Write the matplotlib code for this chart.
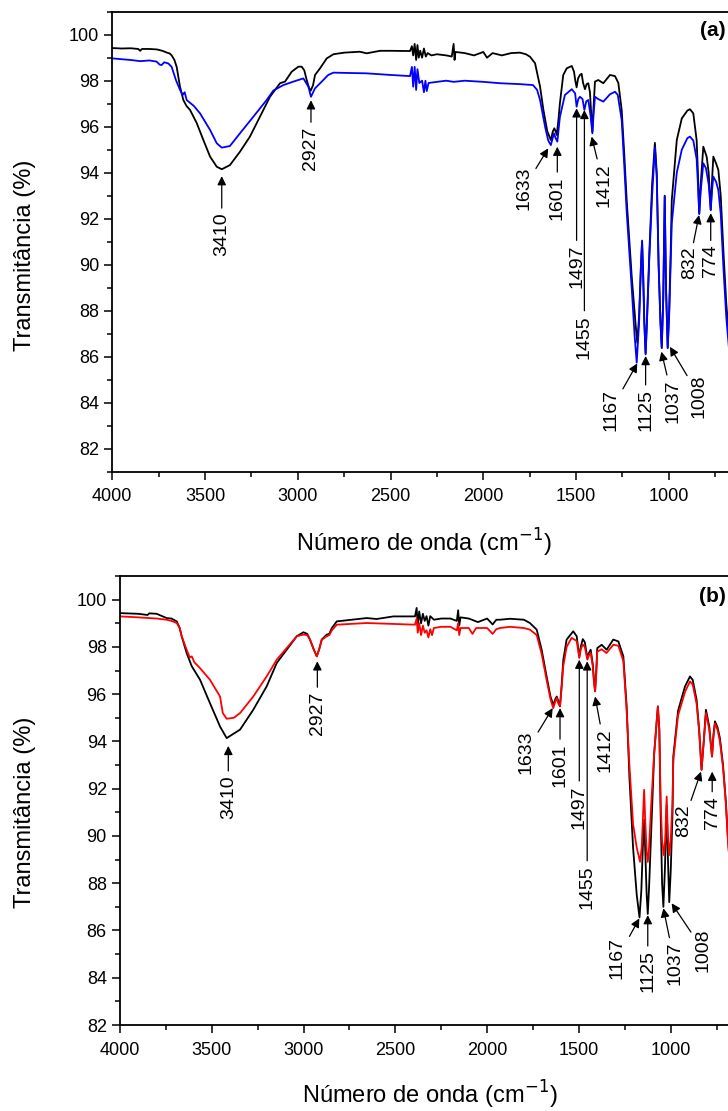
import matplotlib
matplotlib.use("Agg")
import matplotlib.pyplot as plt
from matplotlib.ticker import MultipleLocator

plt.rcParams['font.family'] = ['Liberation Sans', 'DejaVu Sans']

# ---------------- data (a) ----------------
wn_a_black = [4000, 3950, 3900, 3860, 3850, 3840, 3800, 3760, 3730, 3705, 3690, 3680, 3665, 3653, 3635, 3617, 3600, 3581,
              3545, 3509, 3473, 3437, 3410, 3366, 3312, 3258, 3204, 3150, 3096, 3069, 3033, 2997, 2979, 2965, 2952, 2940,
              2930, 2918, 2907, 2880, 2844, 2808, 2750, 2665, 2629, 2557, 2500, 2395, 2385, 2378, 2370, 2362, 2355, 2348,
              2340, 2330, 2320, 2310, 2300, 2280, 2250, 2200, 2170, 2160, 2155, 2150, 2100, 2050, 2000, 1980, 1950, 1900,
              1850, 1802, 1770, 1748, 1721, 1694, 1676, 1655, 1636, 1625, 1617, 1610, 1604, 1595, 1587, 1569, 1550, 1523,
              1511, 1504, 1497, 1489, 1479, 1470, 1462, 1452, 1443, 1434, 1425, 1418, 1412, 1406, 1398, 1380, 1353, 1317,
              1290, 1272, 1254, 1240, 1227, 1200, 1180, 1170, 1160, 1150, 1144, 1138, 1132, 1125, 1118, 1105, 1090, 1075,
              1065, 1055, 1045, 1038, 1030, 1022, 1015, 1006, 998, 990, 984, 957, 930, 900, 886, 868, 850, 843, 836, 828,
              814, 796, 785, 774, 766, 760, 745, 733, 720, 705, 690, 675]
t_a_black = [99.42, 99.40, 99.41, 99.38, 99.30, 99.38, 99.38, 99.36, 99.30, 99.22, 99.18, 99.10, 98.90, 98.60, 97.74, 97.16,
             96.90, 96.73, 96.16, 95.42, 94.70, 94.26, 94.15, 94.33, 94.91, 95.57, 96.43, 97.30, 97.89, 97.96, 98.39, 98.61,
             98.61, 98.45, 98.03, 97.70, 97.57, 97.80, 98.25, 98.54, 98.97, 99.15, 99.22, 99.26, 99.19, 99.30, 99.30, 99.29,
             99.50, 99.10, 99.60, 98.90, 99.55, 99.00, 99.30, 99.00, 99.40, 99.05, 99.20, 99.10, 99.15, 99.10, 99.05, 99.60,
             98.90, 99.25, 99.20, 99.10, 99.25, 99.00, 99.20, 99.10, 99.20, 99.22, 99.15, 99.04, 98.76, 97.74, 96.73, 95.80,
             95.42, 95.80, 95.93, 95.80, 95.64, 96.30, 97.02, 98.25, 98.54, 98.64, 98.39, 98.00, 97.71, 98.10, 98.25, 98.30,
             97.90, 97.63, 97.85, 97.89, 97.50, 96.50, 95.78, 96.80, 97.96, 98.03, 97.89, 98.25, 98.20, 97.90, 96.73, 94.80,
             92.80, 89.50, 87.50, 86.60, 87.80, 90.00, 91.00, 89.50, 87.50, 86.15, 87.50, 90.50, 93.50, 95.30, 94.00, 90.00,
             87.50, 86.40, 88.50, 93.00, 89.00, 86.40, 88.00, 90.50, 92.80, 95.42, 96.36, 96.70, 96.76, 96.58, 95.42, 94.00,
             92.23, 93.50, 95.13, 94.70, 94.00, 92.38, 93.80, 94.70, 94.40, 94.12, 93.00, 90.50, 88.30, 86.80]

wn_a_blue = [4000, 3900, 3850, 3800, 3761, 3745, 3734, 3720, 3698, 3680, 3657, 3635, 3621, 3610, 3599, 3560, 3527, 3473,
             3437, 3410, 3366, 3312, 3240, 3168, 3132, 3078, 3024, 2970, 2943, 2929, 2907, 2871, 2836, 2808, 2629, 2500,
             2395, 2385, 2378, 2370, 2362, 2355, 2345, 2330, 2320, 2312, 2305, 2295, 2250, 2200, 2160, 2100, 2000, 1909,
             1800, 1732, 1710, 1694, 1667, 1650, 1636, 1619, 1610, 1601, 1587, 1560, 1523, 1505, 1497, 1488, 1479, 1465,
             1455, 1445, 1434, 1422, 1412, 1405, 1398, 1380, 1353, 1317, 1290, 1275, 1254, 1240, 1227, 1200, 1185, 1173,
             1160, 1150, 1144, 1138, 1132, 1125, 1118, 1105, 1090, 1075, 1065, 1055, 1045, 1038, 1030, 1022, 1015, 1006,
             998, 990, 984, 957, 930, 900, 886, 868, 850, 843, 836, 828, 814, 800, 785, 774, 766, 760, 745, 733, 720, 705,
             690, 675]
t_a_blue = [98.97, 98.90, 98.85, 98.88, 98.83, 98.70, 98.68, 98.80, 98.75, 98.60, 98.03, 97.60, 97.38, 97.50, 97.16, 96.90,
            96.58, 95.86, 95.28, 95.09, 95.16, 95.71, 96.43, 97.16, 97.57, 97.81, 97.96, 98.10, 97.74, 97.30, 97.67, 97.96,
            98.25, 98.35, 98.32, 98.25, 98.20, 98.60, 97.74, 98.60, 97.60, 98.50, 97.90, 98.00, 97.50, 98.00, 97.55, 97.90,
            97.95, 98.00, 97.95, 98.00, 97.95, 97.89, 97.85, 97.81, 97.60, 97.16, 96.00, 95.40, 95.20, 95.71, 95.50, 95.35,
            96.43, 97.38, 97.63, 97.45, 96.87, 97.20, 97.30, 97.20, 96.73, 97.10, 97.16, 96.50, 95.71, 96.60, 97.30, 97.20,
            97.09, 97.41, 97.52, 97.38, 96.29, 94.30, 92.30, 89.00, 87.00, 85.74, 87.50, 90.00, 91.05, 89.50, 87.50, 86.10,
            87.50, 90.30, 93.00, 95.10, 93.80, 90.00, 87.50, 86.37, 88.50, 92.96, 89.00, 86.37, 87.80, 90.00, 91.80, 94.00,
            95.00, 95.50, 95.57, 95.40, 94.60, 93.50, 92.20, 93.20, 94.41, 94.20, 93.50, 92.38, 93.30, 93.83, 93.60, 93.25,
            92.20, 89.80, 87.70, 86.30]

# ---------------- data (b) ----------------
wn_b_black = [4000, 3900, 3850, 3840, 3800, 3746, 3720, 3691, 3675, 3664, 3637, 3609, 3564, 3510, 3455, 3419, 3346, 3274,
              3201, 3146, 3092, 3037, 3001, 2980, 2965, 2945, 2928, 2915, 2901, 2874, 2860, 2846, 2819, 2656, 2602, 2511,
              2393, 2384, 2378, 2370, 2360, 2350, 2340, 2330, 2320, 2310, 2290, 2250, 2200, 2165, 2158, 2152, 2145, 2100,
              2050, 2000, 1970, 1950, 1930, 1875, 1800, 1767, 1730, 1703, 1676, 1655, 1640, 1628, 1621, 1612, 1603, 1595,
              1585, 1567, 1531, 1512, 1505, 1498, 1490, 1479, 1468, 1454, 1445, 1436, 1425, 1418, 1412, 1406, 1400, 1376,
              1349, 1313, 1285, 1258, 1240, 1225, 1205, 1185, 1170, 1160, 1152, 1144, 1137, 1131, 1125, 1118, 1105, 1090,
              1070, 1062, 1055, 1047, 1040, 1032, 1022, 1015, 1008, 1000, 990, 986, 960, 922, 895, 880, 859, 845, 832, 820,
              808, 790, 775, 767, 759, 745, 732, 715, 700, 689, 675]
t_b_black = [99.43, 99.40, 99.35, 99.42, 99.40, 99.22, 99.20, 99.08, 98.80, 98.45, 97.74, 97.18, 96.61, 95.62, 94.63, 94.14,
             94.50, 95.34, 96.33, 97.32, 97.88, 98.45, 98.62, 98.55, 98.31, 97.90, 97.60, 97.90, 98.31, 98.52, 98.55, 98.80,
             99.08, 99.22, 99.18, 99.29, 99.29, 99.65, 98.90, 99.50, 99.00, 99.40, 99.10, 99.30, 98.90, 99.30, 99.15, 99.20,
             99.20, 99.10, 99.55, 98.90, 99.25, 99.20, 99.05, 99.20, 98.95, 99.15, 99.15, 99.19, 99.15, 99.01, 98.73, 97.88,
             96.75, 95.90, 95.55, 95.80, 95.90, 95.70, 95.48, 96.30, 97.46, 98.31, 98.66, 98.45, 98.00, 97.60, 98.00, 98.33,
             98.20, 97.53, 97.75, 97.88, 97.30, 96.60, 96.12, 96.90, 97.95, 98.09, 97.88, 98.31, 98.23, 97.60, 95.48, 92.50,
             89.50, 87.50, 86.55, 87.70, 89.50, 90.68, 89.00, 87.50, 86.70, 87.80, 90.50, 93.50, 95.48, 94.50, 91.00, 88.00,
             87.00, 88.50, 91.30, 89.00, 87.20, 88.50, 91.00, 93.36, 95.30, 96.33, 96.75, 96.60, 95.76, 94.50, 92.80, 94.00,
             95.34, 94.63, 93.36, 94.30, 94.85, 94.60, 94.14, 93.00, 91.50, 90.00, 88.50]

wn_b_red = [4000, 3900, 3800, 3746, 3720, 3691, 3675, 3664, 3637, 3620, 3609, 3595, 3564, 3510, 3455, 3440, 3419, 3380,
            3346, 3274, 3201, 3146, 3092, 3037, 3001, 2980, 2965, 2945, 2928, 2915, 2901, 2874, 2860, 2846, 2819, 2656,
            2550, 2393, 2384, 2378, 2370, 2360, 2350, 2340, 2330, 2320, 2310, 2300, 2290, 2250, 2200, 2165, 2158, 2152,
            2145, 2100, 2080, 2060, 2000, 1970, 1950, 1930, 1875, 1800, 1767, 1730, 1703, 1676, 1655, 1640, 1628, 1621,
            1612, 1603, 1595, 1585, 1567, 1540, 1512, 1505, 1498, 1490, 1479, 1468, 1454, 1445, 1436, 1425, 1418, 1412,
            1406, 1400, 1376, 1350, 1313, 1285, 1258, 1240, 1225, 1205, 1185, 1167, 1158, 1150, 1145, 1138, 1131, 1125,
            1118, 1105, 1090, 1070, 1062, 1055, 1047, 1038, 1030, 1022, 1015, 1008, 1000, 990, 986, 960, 922, 895, 880,
            859, 845, 832, 820, 808, 790, 775, 767, 759, 745, 732, 715, 700, 689, 675]
t_b_red = [99.29, 99.25, 99.20, 99.15, 99.10, 99.01, 98.80, 98.45, 97.88, 97.55, 97.60, 97.35, 97.10, 96.61, 95.90, 95.20,
           94.96, 95.00, 95.20, 95.90, 96.75, 97.46, 97.95, 98.45, 98.52, 98.50, 98.30, 97.90, 97.60, 97.90, 98.30, 98.45,
           98.50, 98.70, 98.94, 99.01, 98.98, 98.94, 99.20, 98.60, 99.00, 98.50, 98.90, 98.60, 98.70, 98.40, 98.75, 98.50,
           98.80, 98.85, 98.85, 98.70, 99.00, 98.50, 98.80, 98.80, 98.55, 98.80, 98.80, 98.55, 98.75, 98.80, 98.85, 98.80,
           98.73, 98.50, 97.70, 96.60, 95.80, 95.41, 95.70, 95.85, 95.60, 95.50, 96.20, 97.20, 98.00, 98.38, 98.25, 97.90,
           97.53, 97.90, 98.10, 98.00, 97.46, 97.65, 97.75, 97.20, 96.50, 96.12, 96.80, 97.80, 97.90, 97.74, 98.09, 98.05,
           97.40, 95.30, 93.00, 90.50, 89.50, 88.91, 89.50, 91.00, 91.95, 90.50, 89.30, 88.90, 89.50, 91.50, 93.50, 95.48,
           94.50, 91.50, 89.80, 89.19, 89.80, 91.67, 90.00, 89.19, 89.80, 91.50, 93.20, 95.10, 96.10, 96.54, 96.40, 95.60,
           94.40, 92.80, 94.00, 95.20, 94.50, 93.36, 94.20, 94.75, 94.50, 94.00, 92.90, 91.40, 89.90, 88.40]

# peak labels: text, arrow-tip wavenumber, arrow-tip T, text-center wavenumber, text-center T
ann_a_labels = ['3410', '2927', '1633', '1601', '1497', '1455', '1412', '1167', '1125', '1037', '1008', '832', '774']
ann_a_tip_x = [3410, 2929, 1650, 1601, 1497, 1455, 1416, 1170, 1125, 1040, 994, 837, 774]
ann_a_tip_y = [93.85, 97.15, 95.06, 95.13, 96.80, 96.73, 95.57, 85.71, 86.03, 86.22, 86.43, 92.16, 92.24]
ann_a_txt_x = [3410, 2929, 1781, 1601, 1497, 1455, 1352, 1312, 1125, 977, 837, 889, 774]
ann_a_txt_y = [91.33, 95.07, 93.33, 92.90, 89.93, 86.87, 93.47, 83.68, 83.68, 84.08, 84.30, 90.07, 90.16]

ann_b_labels = ['3410', '2927', '1633', '1601', '1497', '1455', '1412', '1167', '1125', '1037', '1008', '832', '774']
ann_b_tip_x = [3410, 2925, 1643, 1603, 1498, 1455, 1412, 1171, 1125, 1040, 995, 835, 774]
ann_b_tip_y = [93.81, 97.39, 95.41, 95.41, 97.46, 97.39, 95.90, 86.51, 86.65, 86.94, 87.15, 92.72, 92.72]
ann_b_txt_x = [3410, 2925, 1788, 1603, 1498, 1455, 1358, 1290, 1125, 978, 824, 928, 774]
ann_b_txt_y = [91.65, 95.20, 93.56, 93.00, 91.23, 87.85, 93.64, 84.83, 84.28, 84.60, 85.17, 90.64, 91.00]

# ---------------- figure ----------------
W, H = 728, 1111
fig = plt.figure(figsize=(W / 100, H / 100), dpi=100)

ax1 = fig.add_axes([112.3 / W, 1 - 471.7 / H, 3360 * 0.1855 / W, 460.0 / H])
ax2 = fig.add_axes([120.0 / W, 1 - 1025.0 / H, 3360 * 0.18357 / W, 449.0 / H])


def style(ax, ymin, ymax):
    ax.set_xlim(4000, 640)
    ax.set_ylim(ymin, ymax)
    ax.xaxis.set_major_locator(MultipleLocator(500))
    ax.xaxis.set_minor_locator(MultipleLocator(250))
    ax.yaxis.set_major_locator(MultipleLocator(2))
    ax.yaxis.set_minor_locator(MultipleLocator(1))
    ax.tick_params(which='both', direction='out', top=False, right=False, width=1.1, labelsize=13)
    ax.tick_params(which='major', length=6)
    ax.tick_params(which='minor', length=3.5)
    ax.tick_params(axis='x', pad=6)
    for s in ax.spines.values():
        s.set_linewidth(1.3)


def annotate(ax, labels, tx, ty, lx, ly):
    for lab, a, b, c, d in zip(labels, tx, ty, lx, ly):
        ax.annotate(lab, xy=(a, b), xytext=(c, d), rotation=90, ha='center', va='center', fontsize=14,
                    arrowprops=dict(arrowstyle='-|>', color='black', lw=0.9, shrinkA=1, shrinkB=0,
                                    mutation_scale=13))


style(ax1, 81, 101)
ax1.plot(wn_a_black, t_a_black, color='black', lw=1.3)
ax1.plot(wn_a_blue, t_a_blue, color='#0000ff', lw=1.3)
annotate(ax1, ann_a_labels, ann_a_tip_x, ann_a_tip_y, ann_a_txt_x, ann_a_txt_y)

style(ax2, 82, 101)
ax2.plot(wn_b_black, t_b_black, color='black', lw=1.3)
ax2.plot(wn_b_red, t_b_red, color='#ff0000', lw=1.3)
annotate(ax2, ann_b_labels, ann_b_tip_x, ann_b_tip_y, ann_b_txt_x, ann_b_txt_y)

fig.text(726 / W, 1 - 31 / H, '(a)', ha='right', va='center', fontsize=15, fontweight='bold')
fig.text(726 / W, 1 - 597 / H, '(b)', ha='right', va='center', fontsize=15, fontweight='bold')

fig.text(424 / W, 1 - 552 / H, r'Número de onda (cm$^{-1}$)', ha='center', va='baseline', fontsize=17)
fig.text(430 / W, 1 - 1104 / H, r'Número de onda (cm$^{-1}$)', ha='center', va='baseline', fontsize=17)
fig.text(25 / W, 1 - 255 / H, 'Transmitância (%)', rotation=90, ha='center', va='center', fontsize=17)
fig.text(25 / W, 1 - 812 / H, 'Transmitância (%)', rotation=90, ha='center', va='center', fontsize=17)

fig.savefig('out.png', dpi=100)
